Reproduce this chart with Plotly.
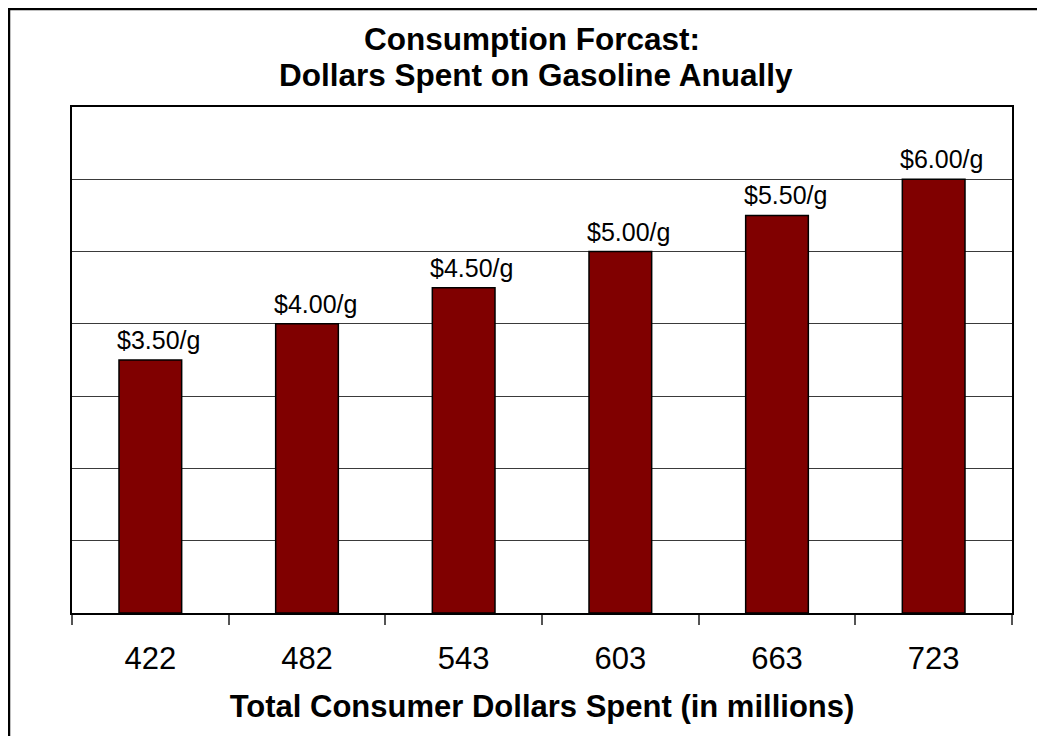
import plotly.graph_objects as go

categories = ["422", "482", "543", "603", "663", "723"]
price_per_gallon = [3.50, 4.00, 4.50, 5.00, 5.50, 6.00]
bar_labels = [f"${p:.2f}/g" for p in price_per_gallon]

title_line1 = "Consumption Forcast:"
title_line2 = "Dollars Spent on Gasoline Anually"
x_title = "Total Consumer Dollars Spent (in millions)"

FONT = "Arial, 'Liberation Sans', Helvetica, sans-serif"
# page body has an 8px margin, so the figure is sized to fit the window
OFF = 8
W, H = 1045 - OFF, 736 - OFF
ML, MR, MT, MB = 64, 33, 99, 123
PW, PH = W - ML - MR, H - MT - MB

def px_to_paper_x(px):
    return (px - ML) / PW

def px_to_paper_y(py):
    return (H - MB - py) / PH

fig = go.Figure()
fig.add_trace(go.Bar(
    x=categories,
    y=price_per_gallon,
    marker=dict(color="#800000", line=dict(color="black", width=1.5)),
    width=0.4,
    hoverinfo="skip",
))

# category positions (index on the category axis) for the value labels
label_annotations = [
    dict(x=i, y=v, xref="x", yref="y", text=t, showarrow=False,
         xanchor="center", yanchor="bottom", xshift=8, yshift=4,
         font=dict(family=FONT, size=25, color="black"))
    for i, (v, t) in enumerate(zip(price_per_gallon, bar_labels))
]

fig.update_layout(
    width=W, height=H,
    margin=dict(l=ML, r=MR, t=MT, b=MB, pad=0),
    paper_bgcolor="white",
    plot_bgcolor="white",
    showlegend=False,
    font=dict(family=FONT, color="black"),
    xaxis=dict(
        type="category",
        categoryorder="array", categoryarray=categories,
        range=[-0.5, len(categories) - 0.5],
        showline=True, linecolor="black", linewidth=2, mirror=True,
        ticks="outside", tickson="boundaries", ticklen=10, tickwidth=1.5, tickcolor="#555555",
        tickfont=dict(family=FONT, size=31, color="black"),
        ticklabelstandoff=17,
        showgrid=False,
        title=dict(text=f"<b>{x_title}</b>", font=dict(family=FONT, size=31, color="black"), standoff=20),
    ),
    yaxis=dict(
        range=[0, 7], dtick=1,
        showticklabels=False, ticks="",
        showgrid=True, gridcolor="#3a3a3a", gridwidth=1,
        showline=True, linecolor="black", linewidth=2, mirror=True,
        zeroline=False,
    ),
    shapes=[dict(
        type="rect", xref="paper", yref="paper",
        x0=px_to_paper_x(1), x1=px_to_paper_x(W + 20),
        y0=px_to_paper_y(H + 20), y1=px_to_paper_y(1),
        line=dict(color="black", width=2.5), fillcolor="rgba(0,0,0,0)",
        layer="above",
    )],
    annotations=[
        dict(text=f"<b>{title_line1}</b>", xref="paper", yref="paper",
             x=px_to_paper_x(532 - OFF), y=px_to_paper_y(39 - OFF), xanchor="center", yanchor="middle",
             showarrow=False, font=dict(family=FONT, size=31.5, color="black")),
        dict(text=f"<b>{title_line2}</b>", xref="paper", yref="paper",
             x=px_to_paper_x(536 - OFF), y=px_to_paper_y(75 - OFF), xanchor="center", yanchor="middle",
             showarrow=False, font=dict(family=FONT, size=31.5, color="black")),
    ] + label_annotations,
)

fig.write_html("out.html")
